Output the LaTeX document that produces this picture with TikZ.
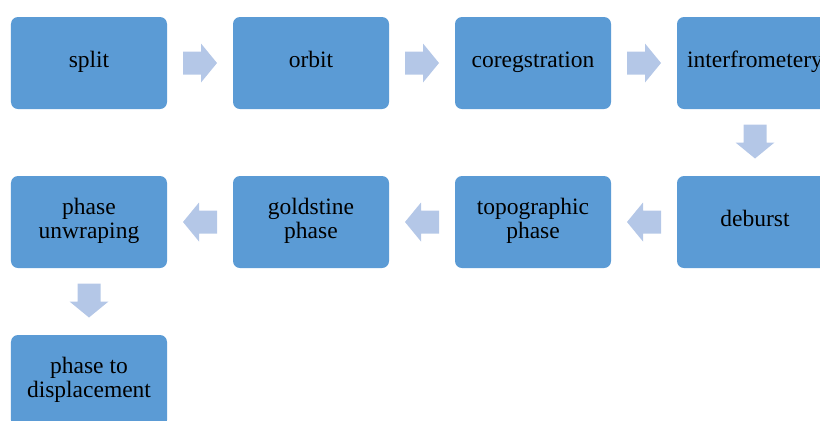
\documentclass[tikz,border=0pt]{standalone}
\usepackage{fontspec}
\setmainfont{Liberation Serif}
\usetikzlibrary{calc}
\definecolor{boxblue}{HTML}{5B9BD5}
\definecolor{arrblue}{HTML}{B4C7E7}
\begin{document}
\begin{tikzpicture}[x=1bp,y=1bp,
  stepbox/.style={fill=boxblue, draw=none, rounded corners=7bp, minimum width=156bp, minimum height=92bp,
    align=center, inner sep=0pt, font=\fontsize{23.5bp}{24.5bp}\selectfont, text=black,
    execute at begin node={\rule[-7bp]{0pt}{22bp}}, execute at end node={\rule[-7bp]{0pt}{0pt}}},
  blockarr/.pic={\fill[arrblue] (-17,-11.5) -- (1,-11.5) -- (1,-19.5) -- (17,0) -- (1,19.5) -- (1,11.5) -- (-17,11.5) -- cycle;}
]
\clip (0,0) rectangle (820,-420);
\node[stepbox] (n1) at (89,-63) {split};
\node[stepbox] (n2) at (311,-63) {orbit};
\node[stepbox] (n3) at (533,-63) {coregstration};
\node[stepbox] (n4) at (755,-63) {interfrometery};
\node[stepbox] (n5) at (755,-222) {deburst};
\node[stepbox] (n6) at (533,-222) {topographic\\phase};
\node[stepbox] (n7) at (311,-222) {goldstine\\phase};
\node[stepbox] (n8) at (89,-222) {phase\\unwraping};
\node[stepbox] (n9) at (89,-381) {phase to\\displacement};
\path ($(n1.east)!0.5!(n2.west)$) pic {blockarr};
\path ($(n2.east)!0.5!(n3.west)$) pic {blockarr};
\path ($(n3.east)!0.5!(n4.west)$) pic {blockarr};
\path ($(n4.south)!0.5!(n5.north)+(0,1)$) pic[rotate=-90] {blockarr};
\path ($(n5.west)!0.5!(n6.east)$) pic[rotate=180] {blockarr};
\path ($(n6.west)!0.5!(n7.east)$) pic[rotate=180] {blockarr};
\path ($(n7.west)!0.5!(n8.east)$) pic[rotate=180] {blockarr};
\path ($(n8.south)!0.5!(n9.north)+(0,1)$) pic[rotate=-90] {blockarr};
\end{tikzpicture}
\end{document}
